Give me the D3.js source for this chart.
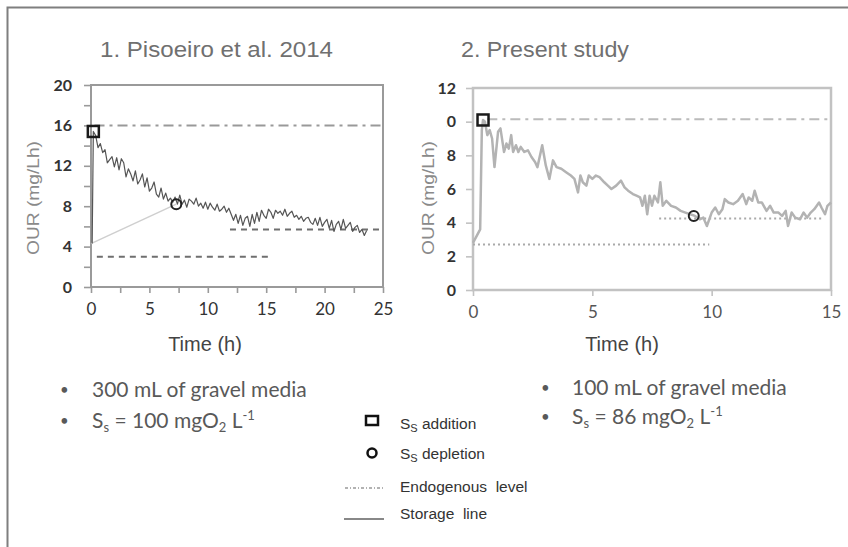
<!DOCTYPE html>
<html>
<head>
<meta charset="utf-8">
<script src="https://cdn.jsdelivr.net/npm/d3@7"></script>
<style>
  html, body { margin: 0; padding: 0; background: #fff; }
  svg { display: block; }
</style>
</head>
<body>
<div id="chart"></div>
<script>
// ---- data ----
const leftTitle = '1. Pisoeiro et al. 2014';
const rightTitle = '2. Present study';

// panel 1: OUR (mg/Lh), first two samples are the initial rise, then 0.2 h steps from 0.4 h
const leftRiseTime = [0.1, 0.2];
const leftRiseOUR = [4.3, 15.4];
const leftStart = 0.4;
const leftStep = 0.2;
const leftOUR = [
  15.0, 13.8, 14.2, 13.3, 13.6, 12.3, 12.6, 12.9, 11.9, 12.8, 11.6, 12.7, 12.3, 10.9, 11.7, 11.2,
  10.5, 11.5, 10.2, 10.6, 11.2, 9.9, 10.8, 9.5, 9.8, 10.4, 9.2, 8.9, 9.8, 8.7, 9.3, 8.5,
  8.8, 8.4, 8.9, 8.2, 9.1, 8.2, 8.6, 7.9, 8.7, 8.5, 8.2, 8.8, 8.0, 8.3, 7.8, 8.4,
  7.7, 8.3, 7.9, 7.6, 8.2, 7.5, 7.7, 8.0, 7.4, 7.8, 7.2, 6.6, 7.2, 6.3, 7.1, 6.1,
  6.8, 7.0, 6.0, 7.2, 6.3, 7.4, 6.5, 7.6, 7.1, 6.8, 7.7, 7.4, 6.8, 7.6, 7.3, 7.5,
  7.1, 7.7, 7.0, 7.3, 7.5, 6.9, 7.1, 6.7, 7.0, 6.5, 6.8, 6.9, 6.4, 6.2, 6.8, 6.1,
  6.9, 6.0, 6.4, 6.7, 5.8, 6.6, 5.5, 6.2, 6.5, 5.7, 6.7, 5.8, 6.1, 6.4, 5.5, 5.9,
  6.1, 5.4, 5.7, 5.1, 5.6
];
const leftAddition = [0.2, 15.4];
const leftDepletion = [7.3, 8.2];
const leftEndoTop = 16;            // dash-dot level
const leftDashed = [[0.5, 15.2, 3.0], [11.9, 25, 5.7]];   // [from, to, level]
const leftStorage = [[0, 4.3], [7.3, 8.2]];

// panel 2
const rightTime = [
  0.0, 0.3, 0.37, 0.42, 0.5, 0.6, 0.7, 0.8, 0.9, 1.05, 1.15, 1.3, 1.4, 1.5, 1.6, 1.68, 1.8, 1.9, 2.0, 2.15,
  2.3, 2.45, 2.6, 2.7, 2.9, 3.05, 3.2, 3.35, 3.5, 3.7, 3.9, 4.1, 4.25, 4.4, 4.5, 4.6, 4.75, 4.85, 5.0, 5.15,
  5.3, 5.5, 5.65, 5.8, 6.0, 6.2, 6.35, 6.5, 6.7, 6.85, 7.0, 7.1, 7.2, 7.3, 7.4, 7.5, 7.6, 7.75, 7.85, 7.95,
  8.1, 8.3, 8.5, 8.7, 8.9, 9.1, 9.3, 9.5, 9.65, 9.8, 10.0, 10.15, 10.3, 10.45, 10.55, 10.7, 10.9, 11.1, 11.3, 11.45,
  11.55, 11.7, 11.8, 11.95, 12.1, 12.3, 12.45, 12.6, 12.8, 12.95, 13.1, 13.2, 13.35, 13.5, 13.7, 13.85, 14.0, 14.15, 14.3, 14.5,
  14.6, 14.75, 14.85, 15.0
];
const rightOUR = [
  2.8, 3.6, 9.5, 10.1, 10.0, 9.2, 9.5, 9.0, 7.3, 9.4, 9.6, 8.2, 8.7, 8.4, 9.2, 8.2, 8.6, 8.2, 8.5, 8.2,
  8.3, 7.9, 7.6, 7.3, 8.6, 7.4, 6.6, 7.7, 7.3, 7.2, 7.0, 6.8, 6.6, 5.8, 6.8, 6.4, 6.2, 6.8, 6.6, 6.8,
  6.7, 6.4, 6.2, 6.0, 6.2, 6.5, 6.1, 5.9, 5.7, 5.6, 5.5, 5.0, 5.6, 4.5, 5.6, 5.0, 5.6, 5.2, 6.4, 5.0,
  5.3, 5.0, 4.9, 4.7, 4.6, 4.5, 4.4, 4.2, 4.3, 3.8, 4.6, 4.9, 4.5, 4.8, 5.4, 5.2, 5.1, 5.3, 5.7, 5.1,
  5.5, 5.3, 5.9, 5.2, 5.2, 4.7, 5.0, 4.6, 4.6, 4.4, 4.7, 3.8, 4.6, 4.3, 4.2, 4.6, 4.3, 4.6, 4.8, 5.2,
  4.9, 4.5, 5.0, 5.2
];
const rightAddition = [0.42, 10.1];
const rightDepletion = [9.25, 4.4];
const rightEndoTop = 10.15;
const rightDotted = [[0, 9.9, 2.7], [7.8, 14.6, 4.25]];

const leftYTicks = [0, 2, 4, 6, 8, 10, 12, 14, 16, 18, 20];
const leftXTicks = [0, 2.5, 5, 7.5, 10, 12.5, 15, 17.5, 20, 22.5, 25];
const rightYTicks = [0, 2, 4, 6, 8, 10, 12];
const rightXTicks = [0, 5, 10, 15];

const legendLabels = ['addition', 'depletion', 'Endogenous  level', 'Storage  line'];

// ---- drawing ----
const W = 848, H = 547;
const svg = d3.select('#chart').append('svg')
  .attr('width', W).attr('height', H)
  .attr('font-family', 'Liberation Sans, Arial, sans-serif');

// outer frame (top + left edges)
svg.append('path')
  .attr('d', `M7.5,${H} V7.5 H${W}`)
  .attr('fill', 'none').attr('stroke', '#7f7f7f').attr('stroke-width', 2);

function panel(cfg) {
  const { x, y } = cfg;
  const g = svg.append('g');

  // frame of plot area
  g.append('rect')
    .attr('x', x.range()[0]).attr('y', y.range()[1])
    .attr('width', x.range()[1] - x.range()[0])
    .attr('height', y.range()[0] - y.range()[1])
    .attr('fill', 'none').attr('stroke', cfg.frame).attr('stroke-width', cfg.frameW);

  const yAxis = g.append('g')
    .attr('transform', `translate(${x.range()[0]},0)`)
    .call(d3.axisLeft(y).tickValues(cfg.yTicks).tickSize(7).tickPadding(cfg.yPad)
      .tickFormat(d => cfg.yLabel(d) ? d : ''));
  yAxis.select('.domain').remove();
  yAxis.selectAll('line').attr('stroke', cfg.frame).attr('stroke-width', 1.6);
  yAxis.selectAll('text')
    .attr('font-family', 'Lato, sans-serif').attr('font-size', 16)
    .attr('font-weight', 'bold').attr('fill', '#333');

  const xAxis = g.append('g')
    .attr('transform', `translate(0,${y.range()[0]})`)
    .call(d3.axisBottom(x).tickValues(cfg.xTicks).tickSize(6).tickPadding(10)
      .tickFormat(d => d % 5 === 0 ? d : ''));
  xAxis.select('.domain').remove();
  xAxis.selectAll('line').attr('stroke', cfg.frame).attr('stroke-width', 1.6);
  xAxis.selectAll('text')
    .attr('font-family', 'Lato, sans-serif').attr('font-size', 17)
    .attr('fill', cfg.xText);

  // reference levels
  g.append('line')
    .attr('x1', x(cfg.endoFrom)).attr('x2', x(x.domain()[1]))
    .attr('y1', y(cfg.endoTop)).attr('y2', y(cfg.endoTop))
    .attr('stroke', cfg.endoColor).attr('stroke-width', 2)
    .attr('stroke-dasharray', '10,5,3,5');

  g.selectAll('line.level')
    .data(cfg.levels)
    .join('line')
      .attr('class', 'level')
      .attr('x1', d => x(d[0])).attr('x2', d => x(d[1]))
      .attr('y1', d => y(d[2])).attr('y2', d => y(d[2]))
      .attr('stroke', cfg.levelColor).attr('stroke-width', 2)
      .attr('stroke-dasharray', cfg.levelDash);

  if (cfg.storage) {
    g.append('path')
      .datum(cfg.storage)
      .attr('d', d3.line().x(d => x(d[0])).y(d => y(d[1])))
      .attr('fill', 'none').attr('stroke', '#cfcfcf').attr('stroke-width', 1.5);
  }

  g.append('path')
    .datum(cfg.series)
    .attr('d', d3.line().x(d => x(d[0])).y(d => y(d[1])))
    .attr('fill', 'none').attr('stroke', cfg.lineColor)
    .attr('stroke-width', cfg.lineW).attr('stroke-linejoin', 'round');

  g.append('rect')
    .attr('x', x(cfg.addition[0]) - 5.5).attr('y', y(cfg.addition[1]) - 5.5)
    .attr('width', 11).attr('height', 11)
    .attr('fill', 'none').attr('stroke', '#1a1a1a').attr('stroke-width', 2.5);

  g.append('circle')
    .attr('cx', x(cfg.depletion[0])).attr('cy', y(cfg.depletion[1])).attr('r', 5)
    .attr('fill', 'none').attr('stroke', '#222').attr('stroke-width', 2);

  // titles
  g.append('text')
    .attr('x', cfg.titleX).attr('y', 57)
    .attr('font-size', 22).attr('fill', '#707070')
    .attr('textLength', cfg.titleLen).attr('lengthAdjust', 'spacingAndGlyphs')
    .text(cfg.title);

  g.append('text')
    .attr('x', cfg.timeX).attr('y', 351).attr('text-anchor', 'middle')
    .attr('font-size', 20).attr('fill', '#444')
    .text('Time (h)');

  // y title box (white, as in the original slide)
  if (cfg.yBoxW) {
    g.append('rect')
      .attr('x', cfg.yTitleX - 11).attr('y', 100)
      .attr('width', cfg.yBoxW).attr('height', 180)
      .attr('fill', '#fff');
  }
  g.append('text')
    .attr('transform', `translate(${cfg.yTitleX},198) rotate(-90)`)
    .attr('text-anchor', 'middle').attr('dy', '0.35em')
    .attr('font-size', 17).attr('fill', '#8a8a8a')
    .attr('textLength', 114).attr('lengthAdjust', 'spacingAndGlyphs')
    .text('OUR (mg/Lh)');
}

const leftSeries = leftRiseTime.map((t, i) => [t, leftRiseOUR[i]])
  .concat(leftOUR.map((v, i) => [leftStart + i * leftStep, v]));
const rightSeries = rightTime.map((t, i) => [t, rightOUR[i]]);

panel({
  x: d3.scaleLinear().domain([0, 25]).range([91, 383]),
  y: d3.scaleLinear().domain([0, 20]).range([287, 85]),
  yTicks: leftYTicks, xTicks: leftXTicks, yLabel: d => d % 4 === 0, yPad: 12,
  frame: '#9a9a9a', frameW: 2, xText: '#333',
  endoTop: leftEndoTop, endoFrom: 0.3, endoColor: '#999',
  levels: leftDashed, levelColor: '#6f6f6f', levelDash: '6,5',
  storage: leftStorage,
  series: leftSeries, lineColor: '#555', lineW: 1.2,
  addition: leftAddition, depletion: leftDepletion,
  title: leftTitle, titleX: 100, titleLen: 233, timeX: 205, yTitleX: 33, yBoxW: 0
});

panel({
  x: d3.scaleLinear().domain([0, 15]).range([473, 831]),
  y: d3.scaleLinear().domain([0, 12]).range([290, 88]),
  yTicks: rightYTicks, xTicks: rightXTicks, yLabel: d => true, yPad: 10,
  frame: '#c2c2c2', frameW: 2.5, xText: '#555',
  endoTop: rightEndoTop, endoFrom: 0.6, endoColor: '#bbb',
  levels: rightDotted, levelColor: '#aaa', levelDash: '2,3',
  storage: null,
  series: rightSeries, lineColor: '#b3b3b3', lineW: 2.5,
  addition: rightAddition, depletion: rightDepletion,
  title: rightTitle, titleX: 461, titleLen: 168, timeX: 622, yTitleX: 428, yBoxW: 29
});

// bullet texts
function bullets(bx, tx, y0, y1, volume, ss) {
  const g = svg.append('g')
    .attr('font-family', 'Lato, Carlito, sans-serif').attr('font-size', 21).attr('fill', '#595959');
  [y0, y1].forEach(yy => g.append('text').attr('x', bx).attr('y', yy - 2)
    .attr('font-size', 15).text('•'));
  g.append('text').attr('x', tx).attr('y', y0).text(volume);
  const t = g.append('text').attr('x', tx).attr('y', y1);
  t.append('tspan').text('S');
  t.append('tspan').attr('font-size', 13).attr('dy', 4).text('s');
  t.append('tspan').attr('dy', -4).text(` = ${ss} mgO`);
  t.append('tspan').attr('font-size', 13).attr('dy', 4).text('2');
  t.append('tspan').attr('dy', -4).text(' L');
  t.append('tspan').attr('font-size', 13).attr('dy', -8).text('-1');
}
bullets(60, 92, 397, 428, '300 mL of gravel media', 100);
bullets(541, 572, 395, 424, '100 mL of gravel media', 86);

// legend
const legend = svg.append('g').attr('font-size', 15.5).attr('fill', '#333');
const legY = [429, 459, 492, 519];
legend.append('rect').attr('x', 366).attr('y', 416).attr('width', 12).attr('height', 9)
  .attr('fill', 'none').attr('stroke', '#111').attr('stroke-width', 2.5);
legend.append('circle').attr('cx', 372).attr('cy', 453).attr('r', 4.5)
  .attr('fill', 'none').attr('stroke', '#111').attr('stroke-width', 2.5);
legend.append('line').attr('x1', 345).attr('x2', 385).attr('y1', 488).attr('y2', 488)
  .attr('stroke', '#999').attr('stroke-width', 1.5).attr('stroke-dasharray', '3,2,1,2');
legend.append('line').attr('x1', 344).attr('x2', 384).attr('y1', 519).attr('y2', 519)
  .attr('stroke', '#888').attr('stroke-width', 2);
legendLabels.forEach((lab, i) => {
  const t = legend.append('text').attr('x', 400).attr('y', legY[i]).attr('xml:space', 'preserve');
  if (i < 2) {
    t.append('tspan').text('S');
    t.append('tspan').attr('font-size', 11).attr('dy', 3).text('S');
    t.append('tspan').attr('dy', -3).text(' ' + lab);
  } else {
    t.text(lab);
  }
});
</script>
</body>
</html>
